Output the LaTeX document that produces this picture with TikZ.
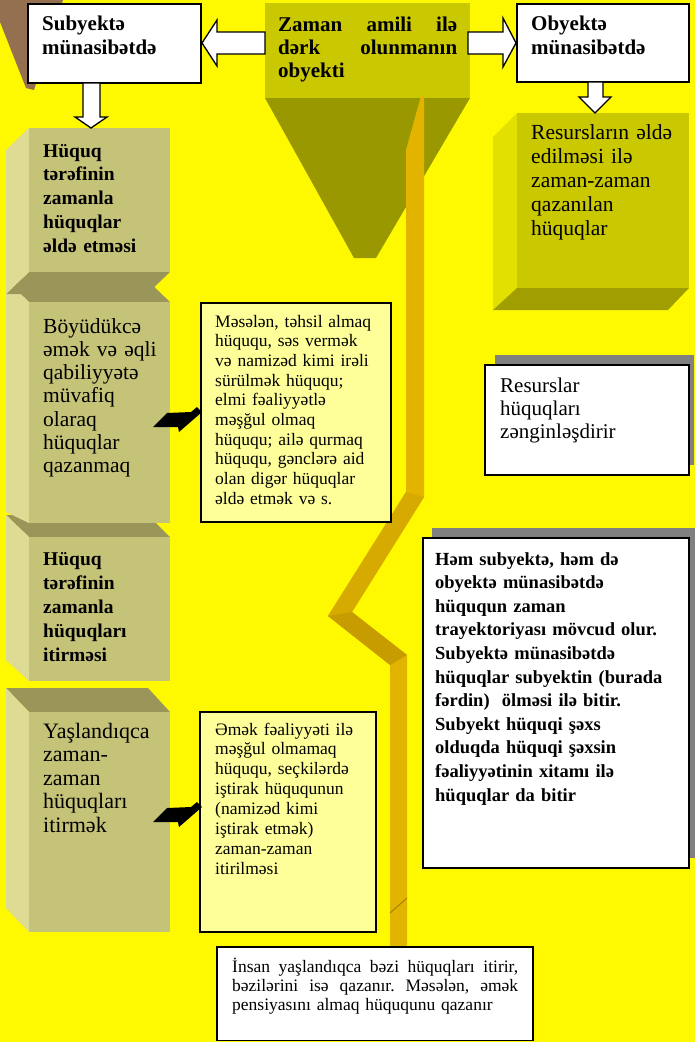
\documentclass[tikz,border=0pt]{standalone}
\usepackage{fontspec}
\setmainfont{Liberation Serif}
\newcommand\myfs[2]{\fontsize{#1}{#2}\selectfont}
\definecolor{bgY}{RGB}{254,248,0}
\definecolor{brownC}{RGB}{148,112,80}
\definecolor{oliveC}{RGB}{202,200,0}
\definecolor{funC}{RGB}{154,152,0}
\definecolor{rLeft}{RGB}{226,224,0}
\definecolor{rBot}{RGB}{160,158,0}
\definecolor{lFront}{RGB}{197,195,120}
\definecolor{lLeft}{RGB}{222,220,148}
\definecolor{lTop}{RGB}{154,150,90}
\definecolor{paleY}{RGB}{255,255,153}
\definecolor{shadowG}{RGB}{128,128,128}
\definecolor{gold}{RGB}{226,180,0}
\definecolor{goldA}{RGB}{214,170,0}
\definecolor{goldB}{RGB}{198,156,0}
\definecolor{goldD}{RGB}{168,128,0}
\begin{document}
\begin{tikzpicture}[x=1pt,y=-1pt,
  txt/.style={anchor=base west, inner sep=0pt, align=left, text width=#1},
  bx/.style={draw=black, line width=1.3pt},
  blk/.style={draw=black, fill=white, line width=1.3pt, line join=miter}]
\useasboundingbox (0,0) rectangle (695,1042);
\fill[bgY] (0,0) rectangle (695,1042);

% brown shape top left
\fill[brownC] (0,0) -- (63,0) -- (34,90) -- (26,88) -- (0,22) -- cycle;

% central box and funnel
\fill[funC] (265,98) -- (470,98) -- (376,258) -- (354,258) -- cycle;
\fill[oliveC] (265,3) rectangle (470,98);

% right cube
\fill[rLeft] (517,113) -- (493,137) -- (493,310) -- (517,288) -- cycle;
\fill[rBot] (517,288) -- (689,288) -- (668,310) -- (493,310) -- cycle;
\fill[oliveC] (517,113) rectangle (689,288);

% left column cubes
\fill[lTop] (6,688) -- (148,688) -- (170,712) -- (29,712) -- cycle;
\fill[lLeft] (6,688) -- (29,712) -- (29,932) -- (6,908) -- cycle;
\fill[lFront] (29,712) rectangle (170,932);
\fill[lTop] (6,515) -- (148,515) -- (170,537) -- (29,537) -- cycle;
\fill[lLeft] (6,515) -- (29,537) -- (29,681) -- (6,660) -- cycle;
\fill[lFront] (29,537) rectangle (170,681);
\fill[lTop] (6,280) -- (147,280) -- (170,302) -- (29,302) -- cycle;
\fill[lLeft] (6,280) -- (29,302) -- (29,523) -- (6,512) -- cycle;
\fill[lFront] (29,302) rectangle (170,523);
\fill[lTop] (29,272) -- (170,272) -- (147,294) -- (6,294) -- cycle;
\fill[lLeft] (29,128) -- (6,150) -- (6,294) -- (29,272) -- cycle;
\fill[lFront] (29,128) rectangle (170,272);

% lightning ribbon
\fill[gold] (421,96) -- (424,96) -- (424,497) -- (352,612) -- (407,655) -- (407,945)
  -- (390,960) -- (390,665) -- (328,616) -- (406,492) -- (406,150) -- cycle;
\fill[goldA] (406,492) -- (424,497) -- (352,612) -- (328,616) -- cycle;
\fill[goldB] (328,616) -- (352,612) -- (407,655) -- (390,665) -- cycle;
\draw[goldD, line width=1pt] (390,913) -- (407,898);

% pale yellow boxes
\draw[bx, fill=paleY] (201,303) rectangle (391,522);
\draw[bx, fill=paleY] (200,712) rectangle (376,932);

% black arrows
\fill[black] (153,427) -- (167,413) -- (191,412) -- (197,407) -- (202,412) -- (179,432) -- (178,427) -- cycle;
\begin{scope}[shift={(0,395)}]
\fill[black] (153,427) -- (167,413) -- (191,412) -- (197,407) -- (202,412) -- (179,432) -- (178,427) -- cycle;
\end{scope}

% white boxes
\draw[bx, fill=white] (28,4) rectangle (201,83);
\draw[bx, fill=white] (517,4) rectangle (689,82);
\fill[shadowG] (495,355) rectangle (694,465);
\draw[bx, fill=white] (485,365) rectangle (689,475);
\fill[shadowG] (432,528) rectangle (695,858);
\draw[bx, fill=white] (423,538) rectangle (689,868);
\draw[bx, fill=white] (217,947) rectangle (533,1040.5);

% block arrows
\draw[blk] (202,43) -- (217,20) -- (217,32) -- (265,32) -- (265,54) -- (217,54) -- (217,66) -- cycle;
\draw[blk] (468,32) -- (503,32) -- (503,18) -- (516,43) -- (503,67) -- (503,54) -- (468,54) -- cycle;
\draw[blk] (83,83) -- (100,83) -- (100,117) -- (107,117) -- (91,128) -- (75,117) -- (83,117) -- cycle;
\draw[blk] (588,82) -- (603,82) -- (603,97) -- (611,97) -- (595,113) -- (579,97) -- (588,97) -- cycle;

% texts
\node[txt=160, font={\bfseries\myfs{21}{24.3}}] (tSub) at (42,30.5) {Subyektə\\münasibətdə};
\node[txt=160, font={\bfseries\myfs{21}{24.3}}] (tObj) at (531,30.5) {Obyektə\\münasibətdə};
\node[txt=179, font={\bfseries\myfs{21}{23}}] (tZam) at (278,31) {Zaman\hfill amili\hfill ilə\\dərk\hfill olunmanın\\obyekti};

\node[txt=130, font={\bfseries\myfs{19.5}{23.8}}] (tB1) at (43,157) {Hüquq\\tərəfinin\\zamanla\\hüquqlar\\əldə etməsi};
\node[txt=130, font={\myfs{21.5}{23.3}}] (tB2) at (43,333) {Böyüdükcə\\əmək və əqli\\qabiliyyətə\\müvafiq\\olaraq\\hüquqlar\\qazanmaq};
\node[txt=130, font={\bfseries\myfs{19.5}{24}}] (tB3) at (43,565) {Hüquq\\tərəfinin\\zamanla\\hüquqları\\itirməsi};
\node[txt=130, font={\myfs{22}{23.5}}] (tB4) at (43,738) {Yaşlandıqca\\zaman-\\zaman\\hüquqları\\itirmək};

\node[txt=165, font={\myfs{21.5}{24.2}}] (tRes) at (531,139) {Resursların əldə\\edilməsi ilə\\zaman-zaman\\qazanılan\\hüquqlar};
\node[txt=180, font={\myfs{21}{23}}] (tRz) at (500,392) {Resurslar\\hüquqları\\zənginləşdirir};

\node[txt=250, font={\bfseries\myfs{18.5}{23.6}}] (tHem) at (435,565) {Həm subyektə, həm də\\obyektə münasibətdə\\hüququn zaman\\trayektoriyası mövcud olur.\\Subyektə münasibətdə\\hüquqlar subyektin (burada\\fərdin)\ \ ölməsi ilə bitir.\\Subyekt hüquqi şəxs\\olduqda hüquqi şəxsin\\fəaliyyətinin xitamı ilə\\hüquqlar da bitir};

\node[txt=175, font={\myfs{17.5}{19.7}}] (tP1) at (215,327) {Məsələn, təhsil almaq\\hüququ, səs vermək\\və namizəd kimi irəli\\sürülmək hüququ;\\elmi fəaliyyətlə\\məşğul olmaq\\hüququ; ailə qurmaq\\hüququ, gənclərə aid\\olan digər hüquqlar\\əldə etmək və s.};
\node[txt=160, font={\myfs{17.5}{19.9}}] (tP2) at (215,735) {Əmək fəaliyyəti ilə\\məşğul olmamaq\\hüququ, seçkilərdə\\iştirak hüququnun\\(namizəd kimi\\iştirak etmək)\\zaman-zaman\\itirilməsi};

\node[txt=286, font={\myfs{17.5}{19}}] (tIns) at (232,972) {İnsan\hfill yaşlandıqca\hfill bəzi\hfill hüquqları\hfill itirir,\\bəzilərini\hfill isə\hfill qazanır.\hfill Məsələn,\hfill əmək\\pensiyasını almaq hüququnu qazanır};
\end{tikzpicture}
\end{document}
